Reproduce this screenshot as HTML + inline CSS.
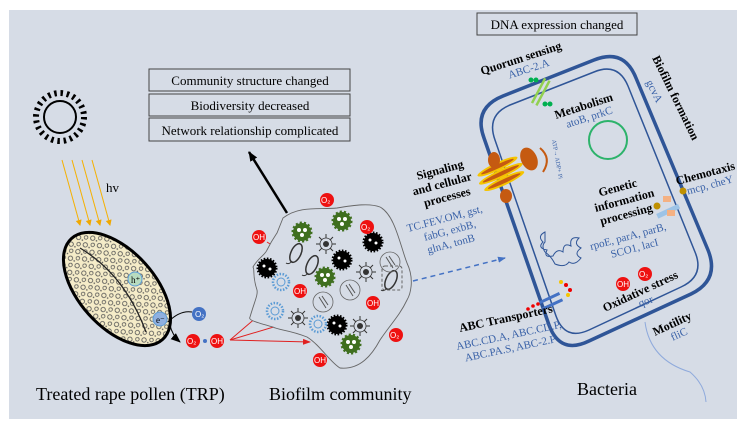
<!DOCTYPE html>
<html><head><meta charset="utf-8"><style>
html,body{margin:0;padding:0;background:#fff;}
svg{display:block;}
text{font-family:"Liberation Serif",serif;}
.b{font-weight:bold;fill:#000;font-size:12px;}
.g{fill:#3a62a8;font-size:11px;}
.r{fill:#fff;font-size:8px;font-family:"Liberation Sans",sans-serif;}
</style></head><body>
<svg width="750" height="428" viewBox="0 0 750 428" xmlns="http://www.w3.org/2000/svg">
<defs>
<marker id="ar" markerWidth="8" markerHeight="8" refX="7" refY="4" orient="auto" markerUnits="userSpaceOnUse"><path d="M0,1 L8,4 L0,7z" fill="#e02020"/></marker>
<marker id="ay" markerWidth="6" markerHeight="6" refX="5" refY="3" orient="auto" markerUnits="userSpaceOnUse"><path d="M0,0 L6,3 L0,6z" fill="#f0a800"/></marker>
<marker id="ak" markerWidth="10" markerHeight="10" refX="9" refY="5" orient="auto" markerUnits="userSpaceOnUse"><path d="M0,1 L10,5 L0,9z" fill="#000"/></marker>
<marker id="ab" markerWidth="8" markerHeight="8" refX="7" refY="4" orient="auto" markerUnits="userSpaceOnUse"><path d="M0,1 L8,4 L0,7z" fill="#4472c4"/></marker>
<pattern id="pc" width="10" height="10" patternUnits="userSpaceOnUse">
<rect width="10" height="10" fill="#f5ecc8"/>
<circle cx="3" cy="3" r="2.2" fill="none" stroke="#555" stroke-width="0.8"/>
<circle cx="8" cy="7.5" r="1.8" fill="none" stroke="#555" stroke-width="0.8"/>
<circle cx="7.5" cy="2" r="0.8" fill="#555"/>
</pattern>
<g id="gear"><circle r="9" fill="#3f6f1f" stroke="#3f6f1f" stroke-width="3" stroke-dasharray="2 2"/><circle r="2" cx="-3" cy="-2" fill="#fff"/><circle r="2" cx="3" cy="-2" fill="#fff"/><circle r="2" cx="0" cy="3" fill="#fff"/></g>
<g id="blk"><circle r="9" fill="#000" stroke="#000" stroke-width="3" stroke-dasharray="1.5 1.5"/><circle r="1.5" cx="-3" cy="-2" fill="#fff"/><circle r="1.5" cx="3" cy="1" fill="#fff"/></g>
<g id="blu"><circle r="8" fill="none" stroke="#5b9bd5" stroke-width="2.5" stroke-dasharray="1.5 1.5"/><circle r="4" fill="none" stroke="#5b9bd5" stroke-width="1"/></g>
<g id="spk"><circle r="3" fill="#333"/><circle r="6" fill="none" stroke="#333" stroke-width="0.8"/><path d="M0,-10V-6M0,10V6M-10,0H-6M10,0H6M-7,-7L-4,-4M7,7L4,4M-7,7L-4,4M7,-7L4,-4" stroke="#333" stroke-width="1"/></g>
<g id="bac"><ellipse rx="5" ry="10" fill="none" stroke="#333" stroke-width="1.5" transform="rotate(25)"/><path d="M-4,8 q-3,4 -6,2" stroke="#333" fill="none"/></g>
<g id="cel"><circle r="10" fill="none" stroke="#666" stroke-width="0.8"/><path d="M-4,-5 L3,6 M-1,-6 L5,3" stroke="#555" fill="none"/></g>
</defs>
<rect x="9" y="10" width="728" height="409" fill="#d6dce6"/>

<!-- sun -->
<circle cx="60" cy="117" r="16" fill="none" stroke="#000" stroke-width="2"/>
<circle cx="60" cy="117" r="24" fill="none" stroke="#000" stroke-width="6" stroke-dasharray="2.5 3.8"/>
<g stroke="#f5b000" stroke-width="1" marker-end="url(#ay)">
<line x1="62" y1="160" x2="80" y2="225"/><line x1="72" y1="160" x2="90" y2="225"/><line x1="82" y1="160" x2="100" y2="225"/><line x1="92" y1="160" x2="110" y2="225"/>
</g>
<text x="106" y="192" font-size="13">hv</text>

<!-- pollen -->
<ellipse cx="117" cy="289" rx="68" ry="38" transform="rotate(48 117 289)" fill="url(#pc)" stroke="#000" stroke-width="3"/>
<path d="M80,248 Q125,275 146,332" stroke="#222" fill="none" stroke-width="1.3"/>
<circle cx="135" cy="279" r="7" fill="#b8dcc0" stroke="#5b9bd5"/><text x="131" y="283" font-size="9">h⁺</text>
<circle cx="160" cy="319" r="7" fill="#8fb0e0" stroke="#5b9bd5"/><text x="156" y="323" font-size="9">e⁻</text>
<path d="M168,322 Q180,310 192,312" stroke="#000" fill="none"/>
<path d="M170,325 Q172,335 180,342" stroke="#000" fill="none" marker-end="url(#ak)"/>
<circle cx="199" cy="314" r="7" fill="#4472c4"/><text x="195" y="317" class="r">O₂</text>
<circle cx="193" cy="341" r="7" fill="#ee1111"/><text x="187" y="344" class="r">O₂</text>
<circle cx="205" cy="341" r="2" fill="#4472c4"/>
<circle cx="217" cy="341" r="7" fill="#ee1111"/><text x="211" y="344" class="r">OH</text>
<g stroke="#e02020" stroke-width="1" marker-end="url(#ar)">
<line x1="230" y1="340" x2="285" y2="293"/><line x1="230" y1="340" x2="297" y2="320"/><line x1="230" y1="340" x2="310" y2="342"/>
<line x1="267" y1="242" x2="284" y2="253"/>
</g>

<!-- boxes -->
<g fill="#d6dce6" stroke="#444" stroke-width="1">
<rect x="149" y="69" width="201" height="22"/><rect x="149" y="94" width="201" height="22"/><rect x="149" y="118" width="201" height="23"/>
<rect x="477" y="13" width="160" height="22"/>
</g>
<g font-size="13" text-anchor="middle">
<text x="250" y="85">Community structure changed</text>
<text x="250" y="110">Biodiversity decreased</text>
<text x="250" y="135">Network relationship complicated</text>
<text x="557" y="29">DNA expression changed</text>
</g>
<line x1="287" y1="213" x2="249" y2="152" stroke="#000" stroke-width="2.5" marker-end="url(#ak)"/>

<!-- biofilm -->
<path d="M283,218 C300,205 320,210 337,208 C355,205 370,203 380,207 C395,215 400,245 407,263 C415,280 410,295 407,300 C400,315 390,325 380,340 C372,355 360,370 340,368 C330,362 320,345 307,337 C290,330 278,330 273,327 C255,322 248,320 250,317 C255,300 258,295 257,290 C252,275 255,270 253,267 C258,258 265,255 267,250 C272,240 275,236 277,233 Z" fill="#d6dce6" stroke="#666" stroke-width="0.9"/>
<use href="#gear" x="302" y="232"/><use href="#gear" x="325" y="277"/><use href="#gear" x="351" y="344"/><use href="#gear" x="342" y="221"/>
<use href="#blk" x="267" y="268"/><use href="#blk" x="342" y="260"/><use href="#blk" x="373" y="242"/><use href="#blk" x="337" y="325"/>
<use href="#blu" x="281" y="282"/><use href="#blu" x="275" y="311"/><use href="#blu" x="318" y="324"/>
<use href="#spk" x="326" y="244"/><use href="#spk" x="366" y="272"/><use href="#spk" x="298" y="318"/><use href="#spk" x="360" y="326"/>
<use href="#bac" x="296" y="253"/><use href="#bac" x="312" y="265"/><use href="#bac" x="391" y="280"/>
<use href="#cel" x="323" y="302"/><use href="#cel" x="350" y="290"/><use href="#cel" x="390" y="262"/>
<rect x="382" y="266" width="20" height="24" rx="3" fill="none" stroke="#666" stroke-dasharray="3 2"/>
<g>
<circle cx="327" cy="200" r="7" fill="#ee1111"/><text x="321" y="203" class="r">O₂</text>
<circle cx="259" cy="237" r="7" fill="#ee1111"/><text x="253" y="240" class="r">OH</text>
<circle cx="367" cy="227" r="7" fill="#ee1111"/><text x="361" y="230" class="r">O₂</text>
<circle cx="300" cy="291" r="7" fill="#ee1111"/><text x="294" y="294" class="r">OH</text>
<circle cx="373" cy="303" r="7" fill="#ee1111"/><text x="367" y="306" class="r">OH</text>
<circle cx="396" cy="335" r="7" fill="#ee1111"/><text x="390" y="338" class="r">O₂</text>
<circle cx="320" cy="360" r="7" fill="#ee1111"/><text x="314" y="363" class="r">OH</text>
</g>
<line x1="413" y1="281" x2="505" y2="258" stroke="#4472c4" stroke-width="1.5" stroke-dasharray="5 4" marker-end="url(#ab)"/>

<!-- cell -->
<path d="M503,96 L594,60 Q624,48 636,78 L708,250 Q720,280 691,294 L589,341 Q560,355 549,325 L484,138 Q473,108 503,96Z" fill="none" stroke="#2f5597" stroke-width="3.5"/>
<path d="M510,105 L594,72 Q618,62 628,86 L695,252 Q705,276 681,287 L589,330 Q565,341 556,316 L495,140 Q486,115 510,105Z" fill="none" stroke="#2f5597" stroke-width="1.5"/>
<!-- quorum -->
<g transform="rotate(-62 541 92)"><rect x="527" y="88" width="28" height="2.5" fill="#92d050"/><rect x="527" y="93" width="28" height="2.5" fill="#92d050"/></g>
<circle cx="531" cy="80" r="2.5" fill="#00b050"/><circle cx="536" cy="80" r="2.5" fill="#00b050"/><circle cx="545" cy="104" r="2.5" fill="#00b050"/><circle cx="550" cy="104" r="2.5" fill="#00b050"/>
<circle cx="608" cy="140" r="19" fill="none" stroke="#2db36b" stroke-width="2"/>
<!-- signaling channel -->
<g transform="rotate(-25 500 172)">
<ellipse cx="500" cy="166" rx="22" ry="4" fill="#f5c400"/><ellipse cx="500" cy="166" rx="18" ry="2" fill="#c55a11"/>
<ellipse cx="500" cy="174" rx="24" ry="4" fill="#f5c400"/><ellipse cx="500" cy="174" rx="20" ry="2" fill="#c55a11"/>
<ellipse cx="500" cy="182" rx="22" ry="4" fill="#f5c400"/><ellipse cx="500" cy="182" rx="18" ry="2" fill="#c55a11"/>
</g>
<ellipse cx="494" cy="160" rx="6" ry="8" fill="#c55a11"/><ellipse cx="506" cy="196" rx="6" ry="7" fill="#c55a11"/>
<ellipse cx="529" cy="159" rx="8" ry="12" fill="#c55a11" transform="rotate(-25 529 159)"/>
<path d="M540,148 Q552,158 543,172" fill="none" stroke="#c55a11" stroke-width="2"/>
<text x="0" y="0" font-size="6" fill="#3a62a8" transform="translate(552,140) rotate(80)">ATP→ ADP+ Pi</text>
<!-- chemotaxis -->
<g transform="rotate(-25 672 210)"><rect x="656" y="207" width="24" height="5" fill="#9dc3e6"/></g>
<rect x="663" y="196" width="8" height="6" fill="#f4b183"/><rect x="667" y="210" width="8" height="6" fill="#f4b183"/>
<circle cx="683" cy="191" r="3.5" fill="#bf9000"/><circle cx="657" cy="206" r="3.5" fill="#bf9000"/>
<!-- DNA squiggle -->
<path d="M545,232 q-8,4 -2,10 q-6,6 4,8 q-4,8 6,6 q4,-8 10,-4 q0,-10 8,-6 q-2,-10 8,-8 q-6,6 2,10 q-8,6 0,10 q-6,8 -12,4 q-4,6 -14,2 q-4,-8 -10,-12 q-4,-6 0,-10z" fill="none" stroke="#2f5597" stroke-width="1"/>
<!-- ABC transporter -->
<g transform="rotate(-25 556 300)"><rect x="540" y="294" width="22" height="3" fill="#4472c4"/><rect x="540" y="301" width="22" height="3" fill="#4472c4"/></g>
<circle cx="528" cy="309" r="1.8" fill="#e00"/><circle cx="533" cy="306" r="1.8" fill="#e00"/><circle cx="538" cy="304" r="1.8" fill="#e00"/>
<circle cx="561" cy="282" r="2" fill="#f5c400"/><circle cx="566" cy="285" r="2" fill="#e00"/><circle cx="570" cy="290" r="2" fill="#e00"/><circle cx="568" cy="295" r="2" fill="#f5c400"/>
<circle cx="623" cy="284" r="7" fill="#ee1111"/><text x="617" y="287" class="r">OH</text>
<circle cx="645" cy="274" r="7" fill="#ee1111"/><text x="639" y="277" class="r">O₂</text>
<path d="M645,322 Q650,360 690,372 Q705,385 706,402" fill="none" stroke="#8faadc" stroke-width="1"/>

<!-- cell labels -->
<g transform="translate(482,75) rotate(-18)"><text class="b">Quorum sensing</text><text class="g" x="25" y="12">ABC-2.A</text></g>
<g transform="translate(556,119) rotate(-18)"><text class="b">Metabolism</text><text class="g" x="8" y="12">atoB, prkC</text></g>
<g transform="translate(652,58) rotate(64)"><text class="b">Biofilm formation</text></g>
<g transform="translate(646,82) rotate(64)"><text class="g">gcvA</text></g>
<g transform="translate(410,182) rotate(-15)"><text class="b" x="8">Signaling</text><text class="b" y="14" x="0">and cellular</text><text class="b" y="28" x="8">processes</text></g>
<g transform="translate(408,232) rotate(-15)"><text class="g">TC.FEV.OM, gst,</text><text class="g" y="13" x="14">fabG, exbB,</text><text class="g" y="26" x="14">glnA, tonB</text></g>
<g transform="translate(594,198) rotate(-15)"><text class="b" x="6">Genetic</text><text class="b" x="-2" y="14">information</text><text class="b" x="0" y="28">processing</text></g>
<g transform="translate(591,250) rotate(-15)"><text class="g">rpoE, parA, parB,</text><text class="g" x="18" y="13">SCO1, lacI</text></g>
<g transform="translate(677,185) rotate(-15)"><text class="b">Chemotaxis</text><text class="g" x="8" y="12">mcp, cheY</text></g>
<g transform="translate(605,312) rotate(-25)"><text class="b">Oxidative stress</text></g>
<text class="g" x="640" y="307" transform="rotate(-20 640 307)">qor</text>
<g transform="translate(460,332) rotate(-12)"><text class="b">ABC Transporters</text></g>
<g transform="translate(457,350) rotate(-12)"><text class="g">ABC.CD.A, ABC.CD.P,</text><text class="g" x="6" y="13">ABC.PA.S, ABC-2.P</text></g>
<g transform="translate(655,336) rotate(-25)"><text class="b">Motility</text><text class="g" x="14" y="12">fliC</text></g>

<!-- bottom labels -->
<text x="36" y="400" font-size="18">Treated  rape pollen (TRP)</text>
<text x="269" y="400" font-size="18">Biofilm community</text>
<text x="577" y="395" font-size="18">Bacteria</text>
</svg>
</body></html>
